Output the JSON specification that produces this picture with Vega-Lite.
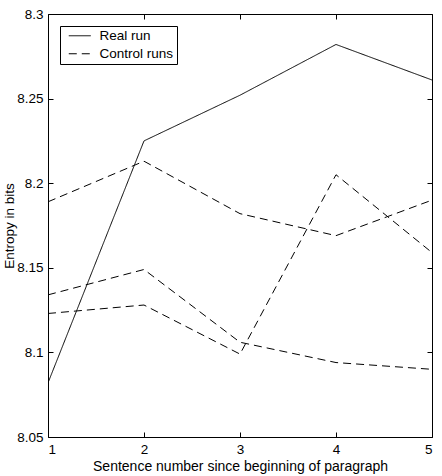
{
  "$schema": "https://vega.github.io/schema/vega-lite/v6.json",
  "width": 384,
  "height": 423,
  "autosize": "none",
  "padding": {"left": 48, "top": 14, "right": 10, "bottom": 39},
  "background": "white",
  "config": {
    "font": "Liberation Sans",
    "view": {"stroke": null},
    "axis": {"grid": false, "domainColor": "black", "domainWidth": 1, "ticks": true, "tickColor": "black", "tickWidth": 1, "labelColor": "black", "titleColor": "black", "labelFontSize": 13.5, "titleFontSize": 14, "titleFontWeight": "normal", "tickSize": -5, "labelPadding": 10}
  },
  "data": {
    "values": [
      {"x": 1, "y": 8.082, "series": "Real run", "run": "r"},
      {"x": 2, "y": 8.225, "series": "Real run", "run": "r"},
      {"x": 3, "y": 8.252, "series": "Real run", "run": "r"},
      {"x": 4, "y": 8.282, "series": "Real run", "run": "r"},
      {"x": 5, "y": 8.261, "series": "Real run", "run": "r"},
      {"x": 1, "y": 8.189, "series": "Control runs", "run": "a"},
      {"x": 2, "y": 8.213, "series": "Control runs", "run": "a"},
      {"x": 3, "y": 8.182, "series": "Control runs", "run": "a"},
      {"x": 4, "y": 8.169, "series": "Control runs", "run": "a"},
      {"x": 5, "y": 8.190, "series": "Control runs", "run": "a"},
      {"x": 1, "y": 8.134, "series": "Control runs", "run": "b"},
      {"x": 2, "y": 8.149, "series": "Control runs", "run": "b"},
      {"x": 3, "y": 8.106, "series": "Control runs", "run": "b"},
      {"x": 4, "y": 8.094, "series": "Control runs", "run": "b"},
      {"x": 5, "y": 8.090, "series": "Control runs", "run": "b"},
      {"x": 1, "y": 8.123, "series": "Control runs", "run": "c"},
      {"x": 2, "y": 8.128, "series": "Control runs", "run": "c"},
      {"x": 3, "y": 8.099, "series": "Control runs", "run": "c"},
      {"x": 4, "y": 8.205, "series": "Control runs", "run": "c"},
      {"x": 5, "y": 8.159, "series": "Control runs", "run": "c"}
    ]
  },
  "layer": [
    {
      "mark": {"type": "line", "color": "black", "strokeWidth": 1, "clip": true},
      "encoding": {
        "x": {"field": "x", "type": "quantitative", "scale": {"domain": [1, 5], "nice": false, "zero": false},
              "axis": {"orient": "bottom", "values": [1, 2, 3, 4, 5], "format": "d", "title": "Sentence number since beginning of paragraph", "titlePadding": 4}},
        "y": {"field": "y", "type": "quantitative", "scale": {"domain": [8.05, 8.3], "nice": false, "zero": false},
              "axis": {"orient": "left", "values": [8.05, 8.1, 8.15, 8.2, 8.25, 8.3], "format": "~g", "title": "Entropy in bits", "titleFontSize": 13.5, "titlePadding": 0}},
        "detail": {"field": "run"},
        "strokeDash": {"field": "series", "type": "nominal",
          "scale": {"domain": ["Real run", "Control runs"], "range": [[1, 0], [8, 5]]},
          "legend": {"title": null, "orient": "none", "legendX": 12, "legendY": 12, "strokeColor": "black", "fillColor": "white", "padding": 3, "labelFontSize": 13.5, "labelColor": "black", "symbolType": "M-1.83,0H1.83", "symbolSize": 144, "symbolOffset": 10, "symbolStrokeColor": "black", "symbolStrokeWidth": 1, "rowPadding": 3, "labelOffset": 13}}
      }
    },
    {
      "mark": {"type": "line", "opacity": 0},
      "encoding": {
        "x": {"field": "x", "type": "quantitative", "axis": {"orient": "top", "values": [1, 2, 3, 4, 5], "labels": false, "title": null}},
        "y": {"field": "y", "type": "quantitative", "axis": {"orient": "right", "values": [8.05, 8.1, 8.15, 8.2, 8.25, 8.3], "labels": false, "title": null}},
        "detail": {"field": "run"}
      }
    }
  ],
  "resolve": {"axis": {"x": "independent", "y": "independent"}}
}
